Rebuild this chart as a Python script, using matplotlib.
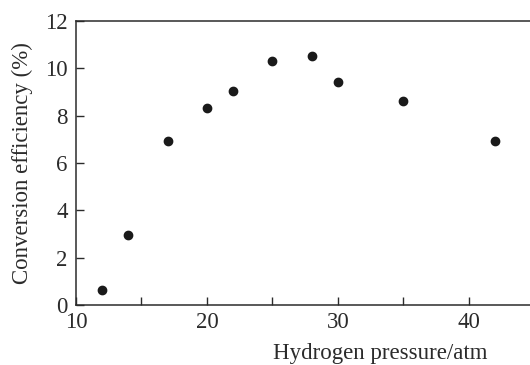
import matplotlib
matplotlib.use("Agg")
import matplotlib.pyplot as plt
from matplotlib.ticker import MultipleLocator

# Data
pressure = [12, 14, 17, 20, 22, 25, 28, 30, 35, 42]
efficiency = [0.63, 2.95, 6.93, 8.34, 9.04, 10.31, 10.51, 9.42, 8.62, 6.93]

plt.rcParams["font.family"] = ["Liberation Serif", "DejaVu Serif"]
ink = "#2b2b2b"

fig = plt.figure(figsize=(5.3, 3.65), dpi=100)
ax = fig.add_axes([0.1434, 0.1644, 0.8566, 0.7781])

ax.scatter(pressure, efficiency, s=36, color="#1a1a1a", zorder=3, clip_on=False)

ax.set_xlim(10, 44.66)
ax.set_ylim(0, 12)
ax.xaxis.set_major_locator(MultipleLocator(10))
ax.xaxis.set_minor_locator(MultipleLocator(5))
ax.yaxis.set_major_locator(MultipleLocator(2))

for side in ["left", "bottom", "top"]:
    ax.spines[side].set_linewidth(1.1)
    ax.spines[side].set_color(ink)
ax.spines["right"].set_visible(False)

ax.tick_params(axis="both", which="both", direction="in", length=5.8,
               width=1.0, color=ink, labelsize=16.5, labelcolor=ink, pad=5)
ax.tick_params(axis="y", which="major", pad=6)
ax.tick_params(top=False, right=False)

ax.set_ylabel("Conversion efficiency (%)", fontsize=16.5, color=ink)
ax.yaxis.set_label_coords(-0.095, 0.5)
ax.set_xlabel("Hydrogen pressure/atm", fontsize=16.5, color=ink)
ax.xaxis.set_label_coords(0.67, -0.135)

fig.savefig("out.png", dpi=100)
